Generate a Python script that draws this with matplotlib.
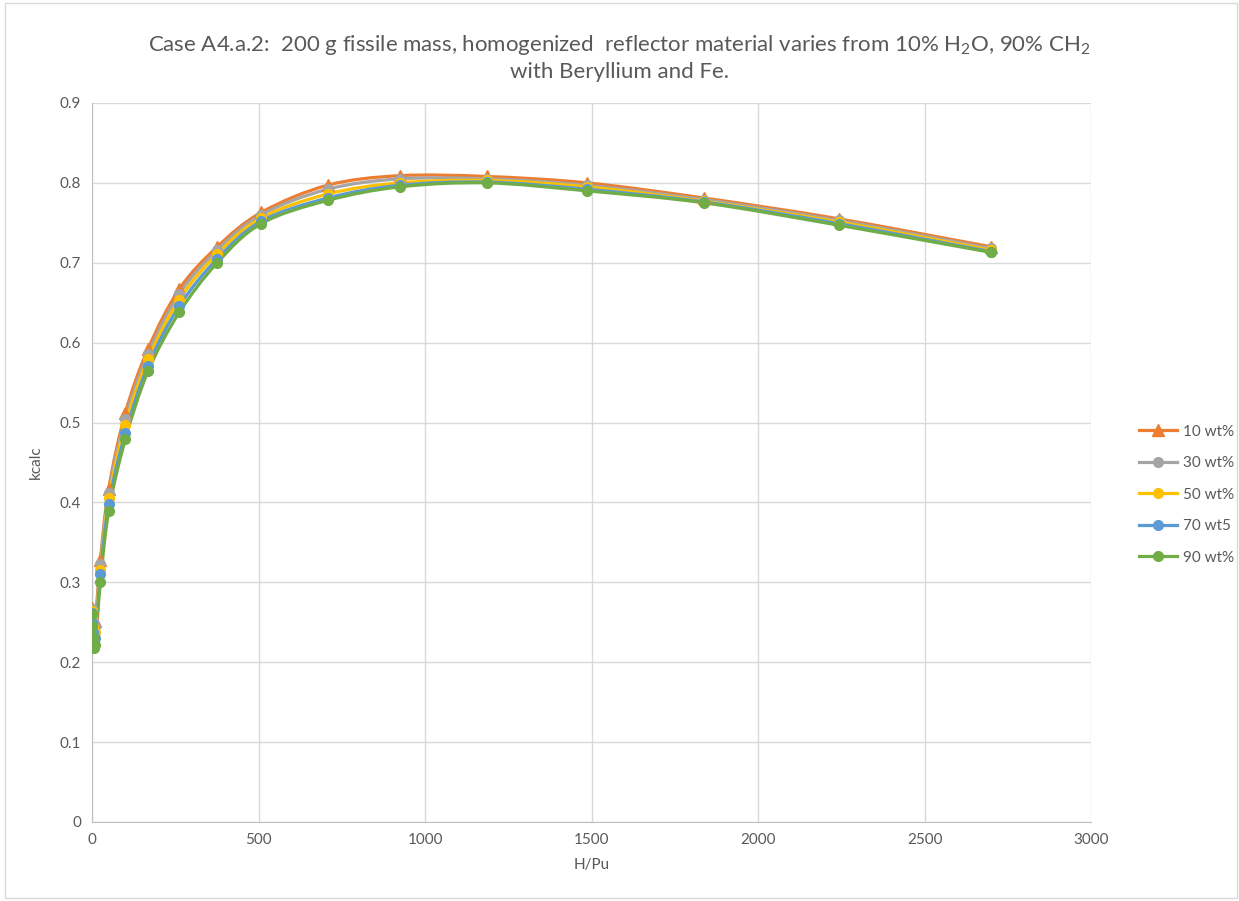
import numpy as np
import matplotlib
matplotlib.use("Agg")
import matplotlib.pyplot as plt
from matplotlib.path import Path
from matplotlib.patches import PathPatch, Rectangle
from matplotlib.lines import Line2D

plt.rcParams['font.family'] = ['Lato', 'DejaVu Sans']
plt.rcParams['mathtext.fontset'] = 'custom'
plt.rcParams['mathtext.rm'] = 'Lato'

h_pu = [0, 1, 2, 5, 10, 25, 50, 100, 168, 262, 376, 508, 707, 924, 1186, 1486, 1838, 2242, 2699]

k_10 = [0.268, 0.262, 0.256, 0.250, 0.252, 0.328, 0.417, 0.512, 0.592, 0.667, 0.720, 0.763,
        0.797, 0.809, 0.808, 0.800, 0.781, 0.755, 0.720]
k_30 = [0.266, 0.258, 0.250, 0.243, 0.245, 0.323, 0.412, 0.505, 0.586, 0.661, 0.716, 0.760,
        0.792, 0.805, 0.805, 0.797, 0.779, 0.753, 0.718]
k_50 = [0.264, 0.254, 0.244, 0.235, 0.238, 0.315, 0.405, 0.497, 0.579, 0.654, 0.711, 0.756,
        0.786, 0.800, 0.803, 0.795, 0.777, 0.751, 0.716]
k_70 = [0.262, 0.250, 0.238, 0.227, 0.230, 0.310, 0.398, 0.487, 0.571, 0.646, 0.705, 0.752,
        0.781, 0.797, 0.801, 0.792, 0.776, 0.749, 0.714]
k_90 = [0.260, 0.245, 0.232, 0.218, 0.222, 0.300, 0.389, 0.479, 0.564, 0.638, 0.700, 0.749,
        0.778, 0.795, 0.800, 0.790, 0.775, 0.747, 0.713]

labels = ['10 wt%', '30 wt%', '50 wt%', '70 wt5', '90 wt%']
colors = ['#ED7D31', '#A5A5A5', '#FFC000', '#5B9BD5', '#70AD47']
markers = ['^', 'o', 'o', 'o', 'o']


def smooth_path(x, y):
    # bezier curve through the points, control points from neighbouring points
    pts = np.column_stack([x, y]).astype(float)
    n = len(pts)
    verts = [pts[0]]
    codes = [Path.MOVETO]
    for i in range(n - 1):
        p0 = pts[i - 1] if i > 0 else pts[i]
        p1 = pts[i]
        p2 = pts[i + 1]
        p3 = pts[i + 2] if i + 2 < n else pts[i + 1]
        c1 = p1 + (p2 - p0) / 6.0
        c2 = p2 - (p3 - p1) / 6.0
        verts += [c1, c2, p2]
        codes += [Path.CURVE4] * 3
    return Path(verts, codes)


fig = plt.figure(figsize=(12.39, 9.01), dpi=100)
ax = fig.add_axes([0.0743, 0.0877, 0.8064, 0.798])

fig.patches.append(Rectangle((0.004, 0.003), 0.994, 0.994, transform=fig.transFigure,
                             fill=False, edgecolor='#d9d9d9', linewidth=1))

txt = '#595959'
for yv, lab, c, m in zip([k_10, k_30, k_50, k_70, k_90], labels, colors, markers):
    ax.add_patch(PathPatch(smooth_path(h_pu, yv), facecolor='none', edgecolor=c,
                           linewidth=2.3, zorder=3))
    ax.plot(h_pu, yv, linestyle='none', marker=m, markersize=7 if m == 'o' else 8,
            color=c, zorder=4)

ax.set_xlim(0, 3000)
ax.set_ylim(0, 0.9)
ax.set_xticks(np.arange(0, 3001, 500))
ax.set_yticks(np.round(np.arange(0, 0.91, 0.1), 1))
ax.set_yticklabels(['0'] + ['%.1f' % v for v in np.arange(0.1, 0.91, 0.1)])
ax.grid(True, color='#d9d9d9', linewidth=1)
ax.set_axisbelow(True)
for s in ['top', 'right']:
    ax.spines[s].set_visible(False)
for s in ['left', 'bottom']:
    ax.spines[s].set_color('#bfbfbf')
ax.tick_params(colors=txt, labelsize=11, length=0, pad=8)
ax.set_xlabel('H/Pu', color=txt, fontsize=11, labelpad=8)
ax.set_ylabel('kcalc', color=txt, fontsize=11, labelpad=12)

fig.text(0.5, 0.95, 'Case A4.a.2:  200 g fissile mass, homogenized  reflector material varies from 10% '
         'H$_\\mathrm{2}$O, 90% CH$_\\mathrm{2}$', ha='center', va='center', color=txt, fontsize=16)
fig.text(0.5, 0.92, 'with Beryllium and Fe.', ha='center', va='center', color=txt, fontsize=16)

handles = [Line2D([0], [0], color=c, marker=m, linewidth=2.3,
                  markersize=7 if m == 'o' else 8) for c, m in zip(colors, markers)]
leg = fig.legend(handles, labels, loc='center left', bbox_to_anchor=(0.908, 0.451),
                 frameon=False, fontsize=11, handlelength=2.5, labelspacing=1.15,
                 handletextpad=0.4)
for t in leg.get_texts():
    t.set_color(txt)

fig.savefig('out.png', dpi=100)
